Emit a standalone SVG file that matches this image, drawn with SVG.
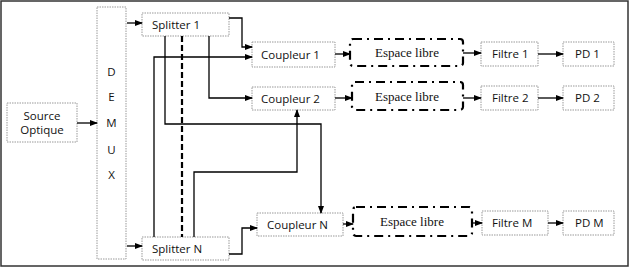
<svg xmlns="http://www.w3.org/2000/svg" width="637" height="273" viewBox="0 0 637 273">
<defs>
<style>
.box{fill:#fff;stroke:#999;stroke-width:1;stroke-dasharray:1.5,1}
.esp{fill:#fff;stroke:#000;stroke-width:2.2;stroke-dasharray:9,5,2,5}
.t{font-family:"Open Sans","Noto Sans","Liberation Sans",sans-serif;font-size:11.5px;fill:#111}
.s{font-family:"Liberation Serif","Times New Roman",serif;font-size:13px;fill:#111}
.c{fill:none;stroke:#000;stroke-width:1.3}
.d{fill:none;stroke:#000;stroke-width:2.2;stroke-dasharray:6,3}
</style>
<marker id="ah" markerWidth="8" markerHeight="6" refX="7" refY="3" orient="auto" markerUnits="userSpaceOnUse">
<path d="M0,0 L8,3 L0,6 Z" fill="#000"/>
</marker>
</defs>
<rect x="1" y="1" width="627" height="265" fill="#fff" stroke="#333" stroke-width="1.5"/>

<g id="source"><rect class="box" x="7" y="103" width="70" height="39"/><text class="t" x="42" y="120" text-anchor="middle">Source</text><text class="t" x="42" y="134" text-anchor="middle">Optique</text></g>
<g id="demux"><rect class="box" x="97" y="7" width="29" height="252"/>
<text class="t" x="111.5" y="76" text-anchor="middle">D</text>
<text class="t" x="111.5" y="101" text-anchor="middle">E</text>
<text class="t" x="111.5" y="127" text-anchor="middle">M</text>
<text class="t" x="111.5" y="154" text-anchor="middle">U</text>
<text class="t" x="111.5" y="179" text-anchor="middle">X</text></g>
<g id="splitter1"><rect class="box" x="142" y="13" width="87" height="23"/><text class="t" x="152" y="29">Splitter 1</text></g>
<g id="splitterN"><rect class="box" x="142" y="237" width="87" height="23"/><text class="t" x="152" y="253">Splitter N</text></g>
<g id="coupleur1"><rect class="box" x="252" y="42" width="83" height="25"/><text class="t" x="261" y="59">Coupleur 1</text></g>
<g id="coupleur2"><rect class="box" x="252" y="87" width="83" height="23"/><text class="t" x="261" y="103">Coupleur 2</text></g>
<g id="coupleurN"><rect class="box" x="257" y="213" width="86" height="23"/><text class="t" x="267" y="229">Coupleur N</text></g>
<g id="espace1"><rect class="esp" x="350" y="39" width="113" height="27" rx="3"/><text class="s" x="407" y="57" text-anchor="middle">Espace libre</text></g>
<g id="espace2"><rect class="esp" x="352" y="82" width="111" height="28" rx="3"/><text class="s" x="407" y="101" text-anchor="middle">Espace libre</text></g>
<g id="espaceN"><rect class="esp" x="353" y="207" width="119" height="29" rx="3"/><text class="s" x="412" y="226" text-anchor="middle">Espace libre</text></g>
<g id="filtre1"><rect class="box" x="481" y="42" width="57" height="24"/><text class="t" x="492" y="58">Filtre 1</text></g>
<g id="filtre2"><rect class="box" x="481" y="86" width="57" height="24"/><text class="t" x="492" y="102">Filtre 2</text></g>
<g id="filtreM"><rect class="box" x="482" y="211" width="66" height="24"/><text class="t" x="492" y="227">Filtre M</text></g>
<g id="pd1"><rect class="box" x="563" y="42" width="51" height="24"/><text class="t" x="575" y="58">PD 1</text></g>
<g id="pd2"><rect class="box" x="563" y="86" width="51" height="24"/><text class="t" x="575" y="102">PD 2</text></g>
<g id="pdM"><rect class="box" x="563" y="211" width="51" height="24"/><text class="t" x="575" y="227">PD M</text></g>

<g id="connectors">
<path class="c" marker-end="url(#ah)" d="M77,123 H97"/>
<path class="c" marker-end="url(#ah)" d="M127,23 H142"/>
<path class="c" marker-end="url(#ah)" d="M127,246 H142"/>
<path class="c" marker-end="url(#ah)" d="M229,18 H242 V47 H252"/>
<path class="c" marker-end="url(#ah)" d="M209,36 V98 H252"/>
<path class="c" marker-end="url(#ah)" d="M165,36 V124 H321 V213"/>
<path class="d" d="M182,36 V237"/>
<path class="c" marker-end="url(#ah)" d="M154,237 V57 H252"/>
<path class="c" marker-end="url(#ah)" d="M194,237 V172 H297 V110"/>
<path class="c" marker-end="url(#ah)" d="M229,254 H242 V228 H257"/>
<path class="c" marker-end="url(#ah)" d="M335,54 H350"/>
<path class="c" marker-end="url(#ah)" d="M463,53 H481"/>
<path class="c" marker-end="url(#ah)" d="M538,54 H563"/>
<path class="c" marker-end="url(#ah)" d="M335,98 H352"/>
<path class="c" marker-end="url(#ah)" d="M463,98 H481"/>
<path class="c" marker-end="url(#ah)" d="M538,98 H563"/>
<path class="c" marker-end="url(#ah)" d="M343,224 H353"/>
<path class="c" marker-end="url(#ah)" d="M472,223 H482"/>
<path class="c" marker-end="url(#ah)" d="M548,223 H563"/>
</g>
</svg>
